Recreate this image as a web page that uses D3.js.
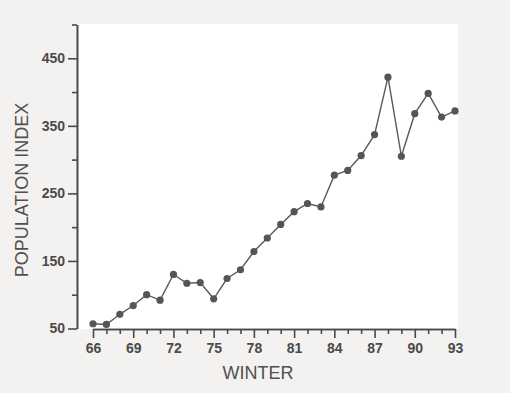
<!DOCTYPE html>
<html><head><meta charset="utf-8">
<script src="https://cdn.jsdelivr.net/npm/d3@7"></script>
<style>
html,body{margin:0;padding:0;background:#f3f2f0;}
svg{display:block;}
</style></head>
<body>
<svg id="chart" width="510" height="393"></svg>
<script>
const winters = [66,67,68,69,70,71,72,73,74,75,76,77,78,79,80,81,82,83,84,85,86,87,88,89,90,91,92,93];
const popIndex = [57,56,71,84,100,92,130,117,118,94,124,137,164,184,204,223,235,230,277,284,306,337,422,305,368,398,363,372];
const yMajorTicks = [50,150,250,350,450];
const yMinorTicks = [100,200,300,400,500];
const xMajorTicks = [66,69,72,75,78,81,84,87,90,93];
const xMinorTicks = winters.filter(w => (w - 66) % 3 !== 0);
const xTitle = "WINTER";
const yTitle = "POPULATION INDEX";

const svg = d3.select("#chart");
const ink = "#4a4a4a";

const x = d3.scaleLinear().domain([66,93]).range([93,455]);
const y = d3.scaleLinear().domain([50,500]).range([328.5,24.5]);

// plot paper
svg.append("rect").attr("x",0).attr("y",0).attr("width",510).attr("height",393).attr("fill","#f3f2f0");
svg.append("rect").attr("x",77).attr("y",24).attr("width",381).attr("height",305).attr("fill","#ffffff");

const yAxisX = 77;
const xAxisY = 329;

function styleAxis(g){
  g.selectAll("path.domain").attr("stroke",ink).attr("stroke-width",1.6);
  g.selectAll(".tick line").attr("stroke",ink).attr("stroke-width",1.6);
  g.selectAll(".tick text").attr("fill",ink)
    .style("font-family","'Liberation Sans', Arial, sans-serif")
    .style("font-weight","bold").style("font-size","14px");
}

// Y axis
const gy = svg.append("g").attr("transform",`translate(${yAxisX},0)`)
  .call(d3.axisLeft(y).tickValues(yMajorTicks).tickSize(9).tickSizeOuter(0).tickPadding(3).tickFormat(d3.format("d")));
styleAxis(gy);
const gy2 = svg.append("g").attr("transform",`translate(${yAxisX},0)`)
  .call(d3.axisLeft(y).tickValues(yMinorTicks).tickSize(5).tickSizeOuter(0).tickFormat(""));
styleAxis(gy2);

// X axis
const gx = svg.append("g").attr("transform",`translate(0,${xAxisY})`)
  .call(d3.axisBottom(x).tickValues(xMajorTicks).tickSize(9).tickSizeOuter(0).tickPadding(5).tickFormat(d3.format("d")));
styleAxis(gx);
const gx2 = svg.append("g").attr("transform",`translate(0,${xAxisY})`)
  .call(d3.axisBottom(x).tickValues(xMinorTicks).tickSize(5).tickSizeOuter(0).tickFormat(""));
styleAxis(gx2);

// line
const data = winters.map((w,i)=>({w, v: popIndex[i]}));
svg.append("path").datum(data)
  .attr("fill","none").attr("stroke","#5a5a5a").attr("stroke-width",1.4)
  .attr("d", d3.line().x(d=>x(d.w)).y(d=>y(d.v)));
svg.selectAll("circle.pt").data(data).enter().append("circle")
  .attr("class","pt").attr("cx",d=>x(d.w)).attr("cy",d=>y(d.v)).attr("r",3.6)
  .attr("fill","#555555");

// titles
svg.append("text").attr("x",258).attr("y",379).attr("text-anchor","middle")
  .attr("fill","#505050").style("font-family","'Liberation Sans', Arial, sans-serif").style("font-size","18px")
  .text(xTitle);
svg.append("text").attr("transform","translate(28,190) rotate(-90)").attr("text-anchor","middle")
  .attr("fill","#505050").style("font-family","'Liberation Sans', Arial, sans-serif").style("font-size","18px")
  .text(yTitle);
</script>
</body></html>
